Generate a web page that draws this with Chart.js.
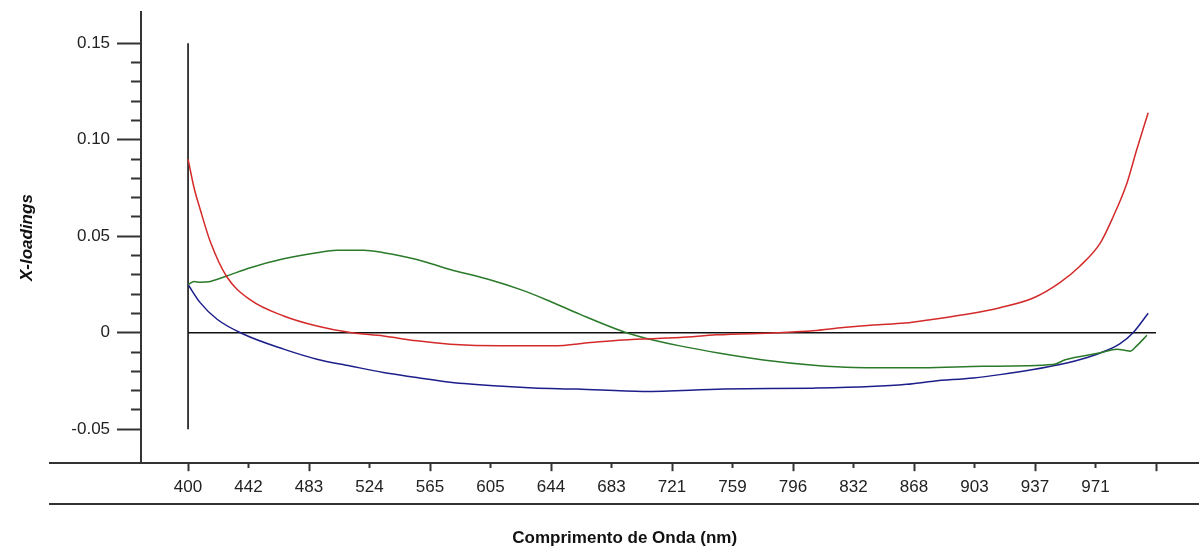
<!DOCTYPE html>
<html>
<head>
<meta charset="utf-8">
<script src="https://cdn.jsdelivr.net/npm/chart.js@4.4.1/dist/chart.umd.min.js"></script>
<style>
  html, body { margin: 0; padding: 0; background: #fff; }
  #wrap { width: 1199px; height: 549px; position: relative; }
</style>
</head>
<body>
<div id="wrap"><canvas id="loadings"></canvas></div>
<script>
// wavelength labels for each tick of the x axis (last tick is unlabeled)
const waveLabels = ['400', '442', '483', '524', '565', '605', '644', '683', '721',
  '759', '796', '832', '868', '903', '937', '971', ''];

const yMajor = [-0.05, 0, 0.05, 0.10, 0.15];
const yLabels = ['-0.05', '0', '0.05', '0.10', '0.15'];

// loadings, x given as position along the tick index
const redIdx = [0, 0.1, 0.2, 0.37, 0.64, 1.03, 1.58, 2.13, 2.68, 3.23, 3.78, 4.33, 5.16, 6.04,
  6.65, 7.19, 8.13, 8.74, 9.73, 10.33, 10.83, 11.33, 11.85, 12.32, 12.87, 13.42, 13.97, 14.41,
  14.74, 15.08, 15.29, 15.52, 15.68, 15.87];
const redVals = [0.090, 0.075, 0.064, 0.047, 0.029, 0.017, 0.0087, 0.0035, 0.0001, -0.0017,
  -0.0042, -0.0059, -0.0068, -0.0068, -0.0051, -0.0037, -0.0025, -0.0011, 0.0, 0.001, 0.0027,
  0.004, 0.005, 0.007, 0.0096, 0.013, 0.018, 0.026, 0.0345, 0.0466, 0.060, 0.0776, 0.0948, 0.114];

const greenIdx = [0, 0.1, 0.2, 0.37, 0.64, 1.03, 1.58, 2.13, 2.46, 2.90, 3.23, 3.78, 4.33, 4.96,
  5.51, 5.93, 6.48, 7.2, 7.58, 8.13, 8.79, 9.51, 10.34, 11.0, 12.15, 13.15, 14.3, 14.5, 15.08,
  15.35, 15.5, 15.57, 15.68, 15.85];
const greenVals = [0.025, 0.0265, 0.0262, 0.0266, 0.0294, 0.0337, 0.0383, 0.0415, 0.0428, 0.0428,
  0.0415, 0.038, 0.0328, 0.0277, 0.0222, 0.017, 0.0095, 0.0005, -0.003, -0.0068, -0.0106,
  -0.0141, -0.0168, -0.018, -0.0182, -0.0174, -0.0165, -0.014, -0.0104, -0.0085, -0.0092,
  -0.0096, -0.0068, -0.0013];

const blueIdx = [0, 0.2, 0.48, 0.92, 1.58, 2.13, 2.68, 3.23, 3.78, 4.33, 5.27, 5.71, 6.43, 7.52,
  8.85, 10.33, 11.27, 11.88, 12.32, 12.98, 13.42, 13.97, 14.41, 14.85, 15.18, 15.40, 15.62, 15.87];
const blueVals = [0.025, 0.0156, 0.007, -0.0008, -0.0085, -0.0137, -0.0172, -0.0206, -0.0232,
  -0.0257, -0.0279, -0.0286, -0.0292, -0.0304, -0.0292, -0.0287, -0.0279, -0.0267, -0.0251,
  -0.0234, -0.0217, -0.0191, -0.0165, -0.013, -0.0092, -0.0058, 0.0, 0.0101];

// reference lines: zero level and the vertical line at the first wavelength
const zeroIdx = [0, 16];
const zeroVals = [0, 0];
const startIdx = [0, 0];
const startVals = [-0.05, 0.15];

const pts = (xs, ys) => xs.map((x, i) => ({ x: x, y: ys[i] }));

const axisColor = '#333';
const fontFamily = "'Liberation Sans', Arial, sans-serif";
const tickFont = { family: fontFamily, size: 17 };
const yMin = -0.0676;
const yMax = 0.1662;
const isMajor = v => yMajor.some(m => Math.abs(m - v) < 1e-6);

function curve(xs, ys, color) {
  return {
    data: pts(xs, ys),
    borderColor: color,
    borderWidth: 1.5,
    pointRadius: 0,
    cubicInterpolationMode: 'monotone',
    order: 0
  };
}

function refLine(xs, ys) {
  return {
    data: pts(xs, ys),
    borderColor: '#111',
    borderWidth: 1.6,
    pointRadius: 0,
    order: 1
  };
}

new Chart(document.getElementById('loadings'), {
  type: 'line',
  data: {
    datasets: [
      curve(redIdx, redVals, '#d42a2a'),
      curve(greenIdx, greenVals, '#2a7a2a'),
      curve(blueIdx, blueVals, '#1c1f8a'),
      refLine(zeroIdx, zeroVals),
      refLine(startIdx, startVals)
    ]
  },
  options: {
    responsive: true,
    maintainAspectRatio: false,
    animation: false,
    layout: { padding: { top: 12, left: 0, right: 0, bottom: 0 } },
    plugins: {
      legend: { display: false },
      tooltip: { enabled: false }
    },
    scales: {
      x: {
        type: 'linear',
        position: 'bottom',
        min: -2.2753,
        max: 16.71,
        afterBuildTicks: s => { s.ticks = waveLabels.map((_, i) => ({ value: i })); },
        ticks: {
          stepSize: 1,
          autoSkip: false,
          maxRotation: 0,
          padding: 6,
          color: '#222',
          font: tickFont,
          callback: v => waveLabels[v] ?? ''
        },
        grid: {
          drawOnChartArea: false,
          tickLength: 8,
          tickWidth: 2,
          tickColor: axisColor,
          // every other tick is a short one
          tickBorderDash: c => (c.index % 2 ? [4, 20] : [])
        },
        border: { color: axisColor, width: 2 }
      },
      x2: {
        type: 'linear',
        position: 'bottom',
        weight: 1,
        min: 0,
        max: 1,
        ticks: { display: false },
        grid: { display: false, drawTicks: false },
        border: { display: true, color: axisColor, width: 2 },
        title: {
          display: true,
          text: 'Comprimento de Onda (nm)',
          color: '#111',
          font: { family: fontFamily, size: 17, weight: 'bold' },
          padding: { top: 25, bottom: 0 }
        }
      },
      // value axis: line and tick marks
      y: {
        type: 'linear',
        position: { x: -0.7766 },
        min: yMin,
        max: yMax,
        afterBuildTicks: s => {
          s.ticks = s.ticks.filter(t => t.value > -0.0505 && t.value < 0.1505);
        },
        ticks: { display: false, stepSize: 0.01, autoSkip: false },
        grid: {
          drawOnChartArea: false,
          tickLength: 23,
          tickWidth: 2,
          tickColor: axisColor,
          // minor ticks only reach part of the way
          tickBorderDash: c => (c.tick && isMajor(c.tick.value) ? [] : [9, 40])
        },
        border: { color: axisColor, width: 2 }
      },
      // value axis: labels, set off to the left of the tick marks
      yLab: {
        type: 'linear',
        position: { x: -1.289 },
        min: yMin,
        max: yMax,
        afterBuildTicks: s => { s.ticks = yMajor.map(v => ({ value: v })); },
        ticks: {
          autoSkip: false,
          padding: 0,
          color: '#222',
          font: tickFont,
          callback: v => {
            const i = yMajor.findIndex(m => Math.abs(m - v) < 1e-6);
            return i >= 0 ? yLabels[i] : '';
          }
        },
        grid: { display: false, drawTicks: false },
        border: { display: false }
      },
      yTitle: {
        type: 'linear',
        position: 'left',
        min: 0,
        max: 1,
        ticks: { display: false },
        grid: { display: false, drawTicks: false },
        border: { display: false },
        title: {
          display: true,
          text: 'X-loadings',
          color: '#111',
          font: { family: fontFamily, size: 17, weight: 'bold', style: 'italic' },
          padding: { top: 17, bottom: 13 }
        }
      }
    }
  }
});
</script>
</body>
</html>
